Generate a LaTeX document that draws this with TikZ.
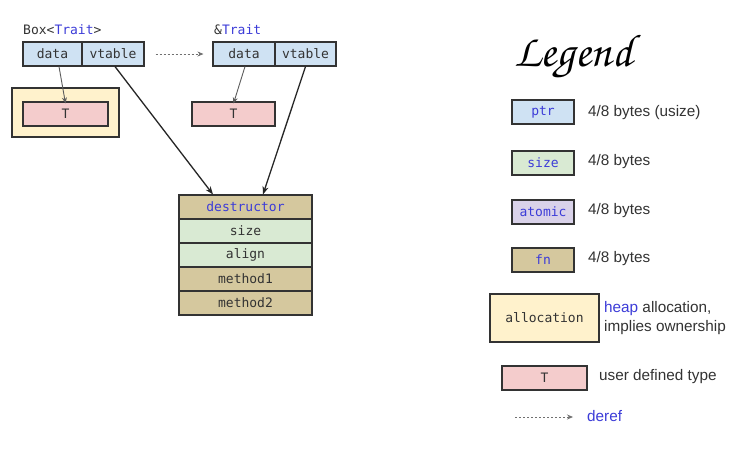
\documentclass[tikz,border=0pt]{standalone}
\usepackage{fontspec}
\setmainfont{Liberation Sans}
\setmonofont{DejaVu Sans Mono}
\usetikzlibrary{arrows.meta}
\definecolor{ptrc}{HTML}{CFE2F3}
\definecolor{sizec}{HTML}{D9EAD3}
\definecolor{atomc}{HTML}{D9D2E9}
\definecolor{fnc}{HTML}{D5C89E}
\definecolor{allocc}{HTML}{FFF2CC}
\definecolor{tc}{HTML}{F4CCCC}
\definecolor{kw}{HTML}{3C3CD8}
\definecolor{ink}{HTML}{333333}
\tikzset{
  cell/.style={draw=ink, line width=1.1pt, inner sep=0pt, minimum height=24pt,
    font=\fontsize{13}{15}\ttfamily, text=ink},
  ptrcell/.style={cell, fill=ptrc},
  sizecell/.style={cell, fill=sizec},
  atomcell/.style={cell, fill=atomc},
  fncell/.style={cell, fill=fnc},
  tcell/.style={cell, fill=tc},
  alloccell/.style={cell, fill=allocc},
  lbl/.style={inner sep=0pt, anchor=west, font=\fontsize{13}{15}\ttfamily, text=ink},
  legtext/.style={inner sep=0pt, anchor=west, font=\fontsize{15.3}{19}\selectfont, text=ink, align=left},
  thinarrow/.style={draw=ink!80, line width=0.9pt, -{Stealth[length=6pt,width=5pt]}},
  thickarrow/.style={draw=black!85, line width=1.3pt, -{Stealth[length=8pt,width=6pt]}},
  derefarrow/.style={draw=ink!70, line width=0.8pt, dash pattern=on 2pt off 2pt, -{Stealth[length=6pt,width=5pt]}},
}
\begin{document}
\begin{tikzpicture}[x=1pt,y=-1pt]
\useasboundingbox[fill=white] (0,0) rectangle (746,459);

% Box<Trait>
\node[lbl] (boxlbl) at (23,30) {Box<\textcolor{kw}{Trait}>};
\node[ptrcell, minimum width=59pt] (bdata) at (52.5,54) {data};
\node[ptrcell, minimum width=62pt] (bvt) at (113,54) {vtable};
\node[alloccell, minimum width=107pt, minimum height=49pt] (alloc1) at (65.5,112.5) {};
\node[tcell, minimum width=85pt] (t1) at (65.5,114) {T};

% &Trait
\node[lbl] (reflbl) at (214,30) {\&\textcolor{kw}{Trait}};
\node[ptrcell, minimum width=62pt] (tdata) at (244,54) {data};
\node[ptrcell, minimum width=61pt] (tvt) at (305.5,54) {vtable};
\node[tcell, minimum width=83pt] (t2) at (233.5,114) {T};

% vtable
\node[fncell, minimum width=133pt] (dtor) at (245.5,207) {\textcolor{kw}{destructor}};
\node[sizecell, minimum width=133pt] (vsize) at (245.5,231) {size};
\node[sizecell, minimum width=133pt] (valign) at (245.5,255) {align};
\node[fncell, minimum width=133pt] (m1) at (245.5,279) {method1};
\node[fncell, minimum width=133pt] (m2) at (245.5,303) {method2};

% connectors
\draw[derefarrow, shorten <=11pt, shorten >=9pt] (bvt.east) -- (tdata.west);
\draw[thinarrow] ([xshift=6.5pt]bdata.south) -- ([yshift=-2pt]t1.north);
\draw[thinarrow] ([xshift=1pt]tdata.south) -- ([yshift=-2pt]t2.north);
\draw[thickarrow] ([xshift=2pt]bvt.south) -- ([xshift=-32.5pt]dtor.north);
\draw[thickarrow] ([xshift=0pt]tvt.south) -- ([xshift=17.5pt]dtor.north);

% Legend
\node[inner sep=0pt, anchor=west, font=\fontsize{46}{50}\usefont{OT1}{pzc}{mb}{it}] (legend) at (514,57) {Legend};

\node[ptrcell, minimum width=62pt] (lptr) at (543,112) {\textcolor{kw}{ptr}};
\node[legtext] (lptrt) at (588,113) {4/8 bytes (usize)};
\node[sizecell, minimum width=62pt] (lsize) at (543,163) {\textcolor{kw}{size}};
\node[legtext] (lsizet) at (588,162) {4/8 bytes};
\node[atomcell, minimum width=62pt] (latom) at (543,212) {\textcolor{kw}{atomic}};
\node[legtext] (latomt) at (588,211) {4/8 bytes};
\node[fncell, minimum width=62pt] (lfn) at (543,260) {\textcolor{kw}{fn}};
\node[legtext] (lfnt) at (588,259) {4/8 bytes};
\node[alloccell, minimum width=109pt, minimum height=48pt] (lalloc) at (544.5,318) {allocation};
\node[legtext] (lalloct) at (604,318) {\textcolor{kw}{heap} allocation,\\implies ownership};
\node[tcell, minimum width=85pt] (lt) at (544.5,378) {T};
\node[legtext] (ltt) at (599,377) {user defined type};
\coordinate (d0) at (515,417);
\node[legtext, text=kw] (lderef) at (587,416) {deref};
\draw[derefarrow, shorten >=14pt] (d0) -- (lderef.west |- d0);
\end{tikzpicture}
\end{document}
